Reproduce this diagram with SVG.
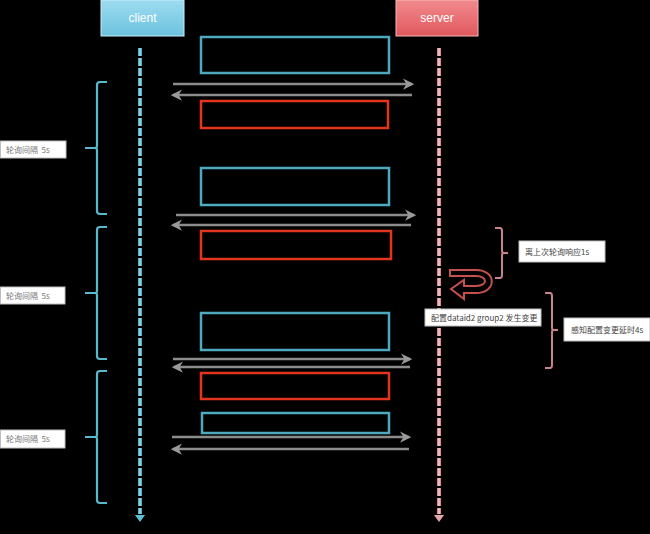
<svg xmlns="http://www.w3.org/2000/svg" width="650" height="534" viewBox="0 0 650 534">
<defs>
<linearGradient id="gc" x1="0" y1="0" x2="0" y2="1"><stop offset="0" stop-color="#9ddcf0"/><stop offset="1" stop-color="#6cc3df"/></linearGradient>
<linearGradient id="gs" x1="0" y1="0" x2="0" y2="1"><stop offset="0" stop-color="#f28a8d"/><stop offset="1" stop-color="#e0585e"/></linearGradient>
<marker id="ah" viewBox="0 0 10 10" refX="8" refY="5" markerWidth="4.5" markerHeight="4.5" orient="auto-start-reverse"><path d="M0,0 L10,5 L0,10 L3,5 Z" fill="#9a9a9a"/></marker>
</defs>
<style>
.bg{fill:#000}
.hdr{font-family:"Liberation Sans","DejaVu Sans",sans-serif;font-size:12px;fill:#fff;text-anchor:middle}
.bx{fill:none;stroke-width:2.5}
.blue{stroke:#4ea9be}
.red{stroke:#e5341e}
.msg{stroke:#8c8c8c;stroke-width:2.5;fill:none;marker-end:url(#ah)}
.lbl{fill:#fff;stroke:#bdbdbd;stroke-width:1}
.lt{font-family:"Noto Sans CJK SC","Noto Sans",sans-serif;font-size:8px;fill:#777}
.rt{font-family:"Noto Sans CJK SC","Noto Sans",sans-serif;font-size:8px;fill:#444}
.lb{fill:none;stroke:#5ab8cc;stroke-width:2.2}
.rb{fill:none;stroke:#c8848b;stroke-width:2}
</style>
<rect class="bg" x="0" y="0" width="650" height="534"/>
<g id="client">
<rect x="101" y="0" width="83" height="36" fill="url(#gc)" stroke="#c8eef8" stroke-width="1"/>
<text class="hdr" x="142.5" y="22">client</text>
</g>
<g id="server">
<rect x="396" y="0" width="82" height="36" fill="url(#gs)" stroke="#f7b5b7" stroke-width="1"/>
<text class="hdr" x="437" y="22">server</text>
</g>
<g id="lifelines">
<line x1="140" y1="48" x2="140" y2="514" stroke="#4fb2c7" stroke-width="4" stroke-dasharray="8 2"/>
<line x1="140" y1="48" x2="140" y2="514" stroke="#bdeaf3" stroke-width="1" stroke-dasharray="8 2"/>
<path d="M135,515 L145,515 L140,522 Z" fill="#5fc0d3"/>
<line x1="439" y1="48" x2="439" y2="514" stroke="#d98d93" stroke-width="4" stroke-dasharray="8 2"/>
<line x1="439" y1="48" x2="439" y2="514" stroke="#fbe3e5" stroke-width="1" stroke-dasharray="8 2"/>
<path d="M434,515 L444,515 L439,522 Z" fill="#e8a6aa"/>
</g>
<g id="blocks">
<rect class="bx blue" x="201" y="37" width="188" height="36"/>
<rect class="bx red" x="201" y="101" width="187" height="27"/>
<rect class="bx blue" x="201" y="168" width="188" height="37"/>
<rect class="bx red" x="201" y="231" width="190" height="28"/>
<rect class="bx blue" x="201" y="313" width="188" height="37"/>
<rect class="bx red" x="201" y="373" width="188" height="26"/>
<rect class="bx blue" x="202" y="413" width="187" height="20"/>
</g>
<g id="connectors">
<line class="msg" x1="173" y1="84" x2="412" y2="84"/>
<line class="msg" x1="412" y1="95" x2="173" y2="95"/>
<line class="msg" x1="176" y1="215" x2="414" y2="215"/>
<line class="msg" x1="411" y1="225" x2="173" y2="225"/>
<line class="msg" x1="173" y1="359" x2="410" y2="359"/>
<line class="msg" x1="410" y1="367" x2="174" y2="367"/>
<line class="msg" x1="172" y1="437" x2="409" y2="437"/>
<line class="msg" x1="409" y1="449" x2="173" y2="449"/>
<path d="M450,270 L476,270 C497,270 497,293 476,293 L464,293 L464,299 L451,289 L464,280 L464,286 L476,286 C488,286 488,276 476,276 L450,276 Z" fill="none" stroke="#c6504e" stroke-width="2"/>
</g>
<g id="brace-left-1">
<path class="lb" d="M107,82 L100,82 Q97,82 97,85 L97,146 Q97,148 95,148 L85,148 M95,148 Q97,148 97,150 L97,211 Q97,214 100,214 L107,214"/>
<rect class="lbl" x="0.5" y="141" width="65.5" height="17"/>
<text class="lt" x="6" y="152.5" xml:space="preserve">轮询间隔  5s</text>
</g>
<g id="brace-left-2">
<path class="lb" d="M107,227 L100,227 Q97,227 97,230 L97,291 Q97,293 95,293 L85,293 M95,293 Q97,293 97,295 L97,356 Q97,359 100,359 L107,359"/>
<rect class="lbl" x="0.5" y="287" width="64.5" height="17"/>
<text class="lt" x="6" y="298.5" xml:space="preserve">轮询间隔  5s</text>
</g>
<g id="brace-left-3">
<path class="lb" d="M107,371 L100,371 Q97,371 97,374 L97,435 Q97,437 95,437 L85,437 M95,437 Q97,437 97,439 L97,500 Q97,503 100,503 L107,503"/>
<rect class="lbl" x="0.5" y="430" width="64.5" height="18"/>
<text class="lt" x="6" y="442" xml:space="preserve">轮询间隔  5s</text>
</g>
<g id="brace-right-1">
<path class="rb" d="M495,228 L500,228 Q502,228 502,231 L502,251 Q502,253 504,253 L508,253 M504,253 Q502,253 502,255 L502,275 Q502,278 500,278 L495,278"/>
<rect class="lbl" x="519" y="241" width="86" height="21"/>
<text class="rt" x="525" y="254.5">离上次轮询响应1s</text>
</g>
<g id="brace-right-2">
<path class="rb" d="M545,293 L550,293 Q552,293 552,296 L552,328 Q552,330 554,330 L558,330 M554,330 Q552,330 552,332 L552,365 Q552,368 550,368 L545,368"/>
<rect class="lbl" x="564" y="318" width="86" height="23"/>
<text class="rt" x="571" y="332.5">感知配置变更延时4s</text>
</g>
<g id="event-label">
<rect class="lbl" x="425" y="309" width="116" height="17"/>
<text class="rt" x="431" y="320.5">配置dataid2 group2 发生变更</text>
</g>
</svg>
